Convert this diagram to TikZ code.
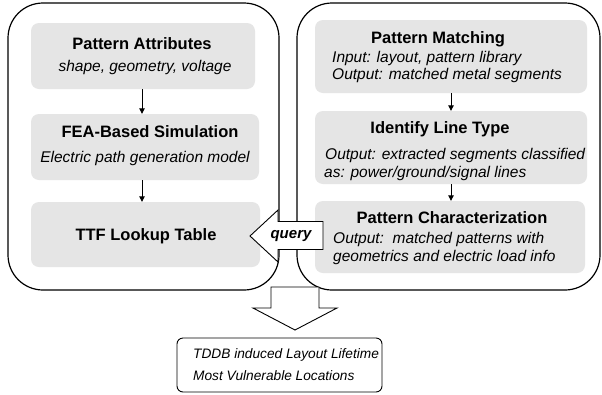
\documentclass[tikz,border=0pt]{standalone}
\usepackage{fontspec}
\setmainfont{Liberation Sans}
\usetikzlibrary{arrows.meta,calc}

\newcommand{\ttl}{\fontsize{16.5}{19}\selectfont\bfseries}
\newcommand{\dsc}{\fontsize{15.5}{17}\selectfont\itshape}

\tikzset{
  panel/.style={draw=black, line width=1.2pt, rounded corners=35pt, fill=white},
  gbox/.style={fill=gray!20, rounded corners=8pt, inner sep=0pt},
  title/.style={anchor=base, inner sep=0pt, font=\ttl},
  line/.style={anchor=base west, inner sep=0pt, font=\dsc},
  flow/.style={draw=black, line width=0.9pt, -{Triangle[length=5.5pt,width=5.5pt]}},
  block/.style={draw=black, line width=0.9pt, fill=white, line join=miter},
  result/.style={draw=black, line width=0.9pt, rounded corners=6pt, inner sep=0pt}
}

\begin{document}
\begin{tikzpicture}[x=1pt, y=-1pt]
  \useasboundingbox (0,0) rectangle (602,394);

  % outer panels
  \node[panel, minimum width=271pt, minimum height=287pt, inner sep=0pt] (left) at (143.5,146.5) {};
  \node[panel, minimum width=303pt, minimum height=287pt, inner sep=0pt] (right) at (448.5,146.5) {};

  % left column: attribute and simulation stages
  \node[gbox, minimum width=224pt, minimum height=66pt] (pa)  at (143,56) {};
  \node[gbox, minimum width=228pt, minimum height=66pt] (fea) at (145,147) {};
  \node[gbox, minimum width=229pt, minimum height=65pt] (ttf) at (145.5,234.5) {};

  \node[title] (paT) at (142,49) {Pattern Attributes};
  \node[anchor=base, inner sep=0pt, font=\dsc] (paD) at (145,71) {shape, geometry, voltage};
  \node[title] (feaT) at (150,137) {FEA-Based Simulation};
  \node[anchor=base, inner sep=0pt, font=\dsc] (feaD) at (145,162) {Electric path generation model};
  \node[title] (ttfT) at (146,240) {TTF Lookup Table};

  \coordinate (lx) at (142,0);
  \draw[flow] (pa.south -| lx) -- (fea.north -| lx);
  \draw[flow] (fea.south -| lx) -- (ttf.north -| lx);

  % right column: layout analysis stages
  \node[gbox, minimum width=272pt, minimum height=73pt] (pm)  at (451,56.5) {};
  \node[gbox, minimum width=272pt, minimum height=73pt] (ilt) at (451,147.5) {};
  \node[gbox, minimum width=270pt, minimum height=72pt] (pc)  at (450,237) {};

  \node[title] (pmT) at (438,43) {Pattern Matching};
  \node[line] (pm1) at (332,62) {Input: layout, pattern library};
  \node[line] (pm2) at (332,79) {Output: matched metal segments};

  \node[title] (iltT) at (440,133) {Identify Line Type};
  \node[line] (ilt1) at (325,159) {Output: extracted segments classified};
  \node[line] (ilt2) at (324,177) {as: power/ground/signal lines};

  \node[title] (pcT) at (452,223) {Pattern Characterization};
  \node[line] (pc1) at (333,243) {Output:\ \ matched patterns with};
  \node[line] (pc2) at (333,261) {geometrics and electric load info};

  \coordinate (rx) at (451,0);
  \draw[flow] (pm.south -| rx) -- (ilt.north -| rx);
  \draw[flow] (ilt.south -| rx) -- (pc.north -| rx);

  % query arrow from the characterization stage to the lookup table
  \draw[block] (250,236) -- (278,210) -- (278,221.5) -- (323,221.5)
               -- (323,249.5) -- (278,249.5) -- (278,262) -- cycle;
  \node[anchor=base, inner sep=0pt, font=\fontsize{15}{17}\selectfont\bfseries\itshape] (query) at (291,238) {query};

  % result arrow and result box
  \draw[block] (271,287) -- (319,287) -- (319,308) -- (337,308) -- (295,330)
               -- (253,308) -- (271,308) -- cycle;
  \node[result, minimum width=205pt, minimum height=54pt] (out) at (279.5,365) {};
  \node[anchor=base west, inner sep=0pt, font=\fontsize{13.7}{16}\selectfont\itshape] (out1) at (193,358) {TDDB induced Layout Lifetime};
  \node[anchor=base west, inner sep=0pt, font=\fontsize{13.7}{16}\selectfont\itshape] (out2) at (193,380) {Most Vulnerable Locations};
\end{tikzpicture}
\end{document}
